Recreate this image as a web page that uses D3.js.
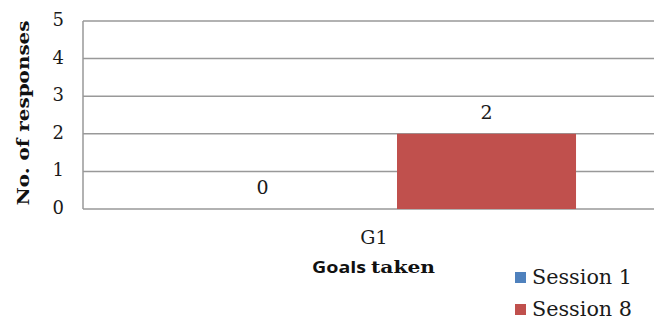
<!DOCTYPE html>
<html>
<head>
<meta charset="utf-8">
<script src="https://cdn.jsdelivr.net/npm/d3@7"></script>
<style>
  html, body { margin: 0; padding: 0; background: #fff; }
  svg { display: block; }
</style>
</head>
<body>
<svg id="chart" width="654" height="321"></svg>
<script>
// Goals taken per session
const categories = ["G1"];
const seriesNames = ["Session 1", "Session 8"];
const session1 = [0];
const session8 = [2];
const yTicks = [0, 1, 2, 3, 4, 5];

const colors = { "Session 1": "#4F81BD", "Session 8": "#C0504D" };
const serif = "'DejaVu Serif', 'Liberation Serif', serif";
const textColor = "#1a1a1a";

const W = 654, H = 321;
const margin = { left: 83, top: 21, bottom: 112 };
const plotRight = 711; // plot area runs past the right edge of the view

const svg = d3.select("#chart");

const y = d3.scaleLinear().domain([0, 5]).range([H - margin.bottom, margin.top]);

const x0 = d3.scaleBand().domain(categories)
  .range([margin.left, plotRight]).paddingOuter(0.377).paddingInner(0);
const x1 = d3.scaleBand().domain(seriesNames).range([0, x0.bandwidth()]).padding(0);

// gridlines
svg.append("g")
  .selectAll("line").data(yTicks).join("line")
  .attr("x1", margin.left).attr("x2", W)
  .attr("y1", d => y(d)).attr("y2", d => y(d))
  .attr("stroke", "#999").attr("stroke-width", 1.5);

// left axis line
svg.append("line")
  .attr("x1", margin.left).attr("x2", margin.left)
  .attr("y1", y(5)).attr("y2", y(0))
  .attr("stroke", "#999").attr("stroke-width", 1.5);

// y tick labels
svg.append("g").selectAll("text").data(yTicks).join("text")
  .attr("x", margin.left - 19).attr("y", d => y(d))
  .attr("dy", "0.28em")
  .attr("text-anchor", "end")
  .attr("font-family", serif).attr("font-size", 18).attr("fill", textColor)
  .text(d => d);

// bars
const rows = categories.map((c, i) => ({
  cat: c,
  vals: [
    { name: "Session 1", v: session1[i] },
    { name: "Session 8", v: session8[i] }
  ]
}));

const groups = svg.append("g").selectAll("g").data(rows).join("g")
  .attr("transform", d => `translate(${x0(d.cat)},0)`);

groups.selectAll("rect").data(d => d.vals).join("rect")
  .attr("x", d => x1(d.name))
  .attr("width", x1.bandwidth())
  .attr("y", d => y(d.v))
  .attr("height", d => y(0) - y(d.v))
  .attr("fill", d => colors[d.name]);

// value labels
const labelShift = { "Session 1": -45, "Session 8": 0 };
groups.selectAll("text").data(d => d.vals).join("text")
  .attr("x", d => x1(d.name) + x1.bandwidth() / 2 + labelShift[d.name])
  .attr("y", d => y(d.v) - 15)
  .attr("text-anchor", "middle")
  .attr("font-family", serif).attr("font-size", 19).attr("fill", textColor)
  .text(d => d.v);

// category label
svg.append("g").selectAll("text").data(categories).join("text")
  .attr("x", d => x0(d) + x0.bandwidth() / 2 - 23)
  .attr("y", y(0) + 35)
  .attr("text-anchor", "middle")
  .attr("font-family", serif).attr("font-size", 19).attr("fill", textColor)
  .text(d => d);

// x axis title
const xt = svg.append("text")
  .attr("y", 273)
  .attr("font-weight", "bold").attr("fill", "#111");
xt.append("tspan").attr("x", 312)
  .attr("font-family", "'Open Sans', 'Liberation Sans', sans-serif")
  .attr("font-size", 16).attr("textLength", 54).attr("lengthAdjust", "spacingAndGlyphs")
  .text("Goals");
xt.append("tspan").attr("x", 371)
  .attr("font-family", serif).attr("font-size", 17)
  .attr("textLength", 64).attr("lengthAdjust", "spacingAndGlyphs")
  .text("taken");

// y axis title
svg.append("text")
  .attr("transform", `translate(29,${(y(0) + y(5)) / 2 - 2}) rotate(-90)`)
  .attr("text-anchor", "middle")
  .attr("font-family", serif).attr("font-size", 17).attr("font-weight", "bold")
  .attr("fill", "#111")
  .attr("textLength", 185).attr("lengthAdjust", "spacingAndGlyphs")
  .text("No. of responses");

// legend
const legend = svg.append("g").selectAll("g").data(seriesNames).join("g")
  .attr("transform", (d, i) => `translate(515,${284 + i * 32})`);
legend.append("rect")
  .attr("x", 0).attr("y", -12).attr("width", 11).attr("height", 11)
  .attr("fill", d => colors[d]);
legend.append("text")
  .attr("x", 17).attr("y", 0)
  .attr("font-family", serif).attr("font-size", 20).attr("fill", textColor)
  .attr("textLength", 100).attr("lengthAdjust", "spacingAndGlyphs")
  .text(d => d);
</script>
</body>
</html>
